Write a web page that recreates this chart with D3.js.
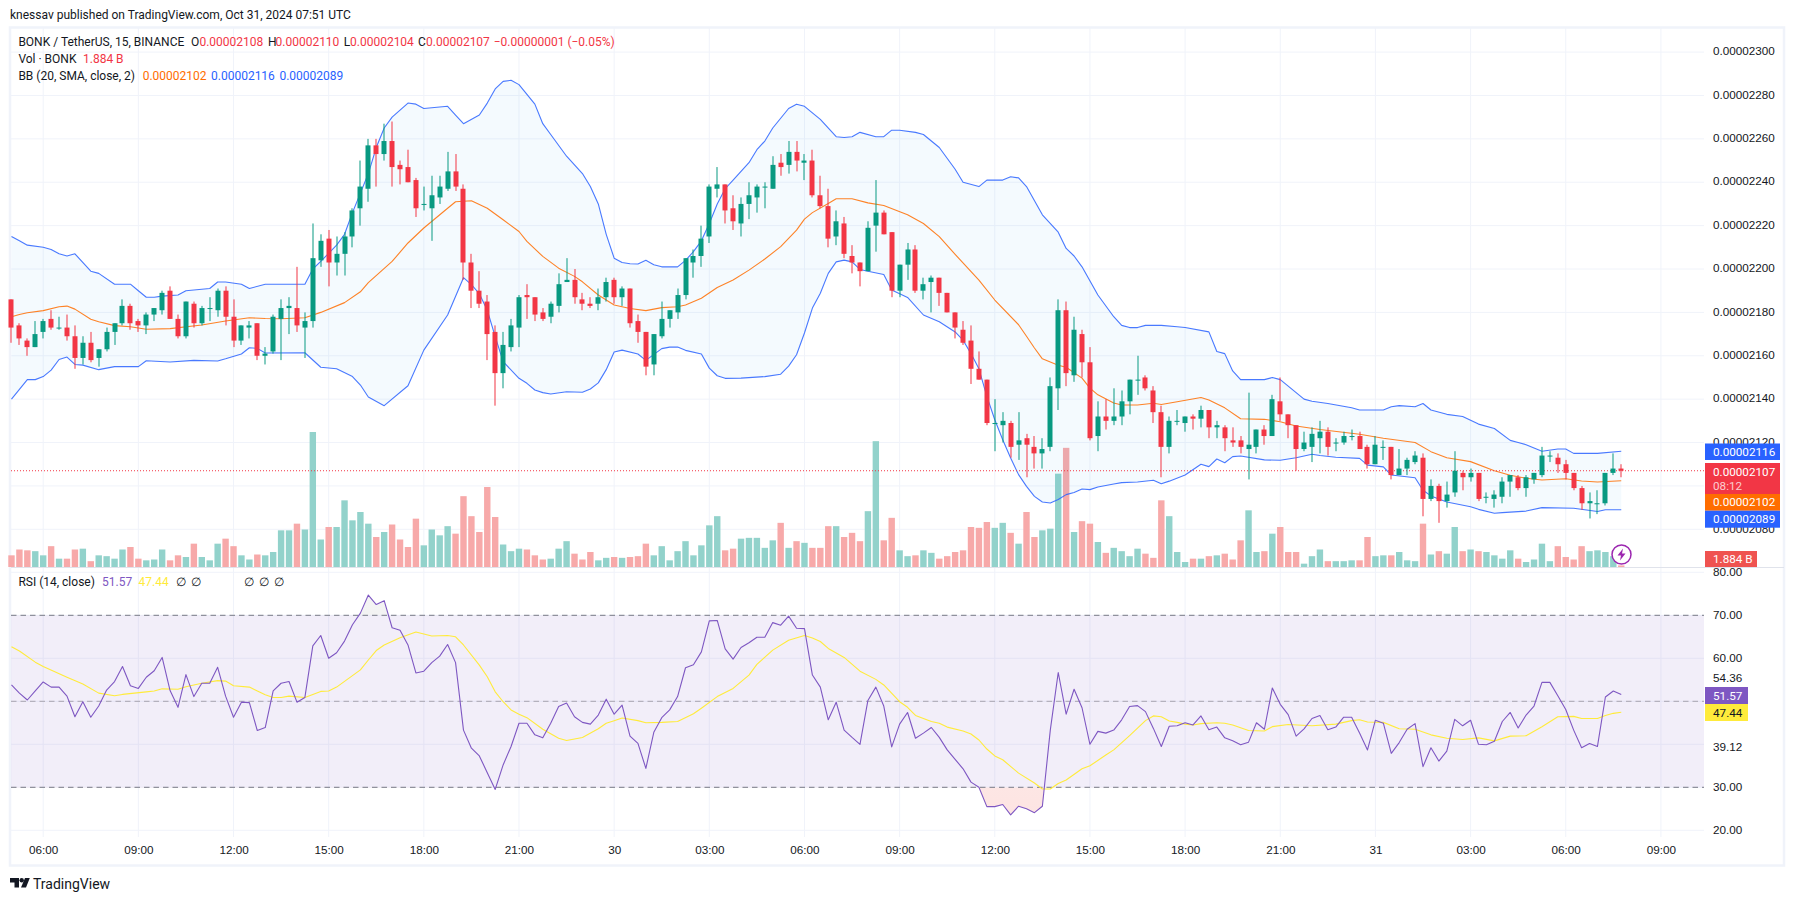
<!DOCTYPE html>
<html lang="en">
<head>
    <meta charset="UTF-8">
    <title>BONK / TetherUS</title>
    <style>
        body{
            margin: 0;
            background: white;
        }
        svg{
            display: block;
            font-family: Roboto, sans-serif;
        }
        text{
            font-size: 12px;
            fill: #131722;
        }
        .axis text{
            font-size: 11.7px;
        }
        .axis path, .axis line{
            display: none;
        }
        .tag{
            fill: white;
            font-size: 11.7px;
        }
    </style>
    <script src="https://d3js.org/d3.v7.min.js"></script>
</head>
<body>
<svg width="1794" height="901" id="chart"></svg>
<script>
    // prices are in units of 0.00000001, first bar is 05:00 on the 29th, 15 minute bars
    let firstBar = -4
    let opens = [2186,2174,2167,2164,
        2171,2177,2173,2173,2169,2159,2166,2159,2163,2171,
        2175,2183,2176,2174,2179,2181,2190,2177,2169,2184,
        2175,2182,2181,2190,2178,2167,2173,2175,2160,2162,
        2177,2182,2182,2173,2176,2204,2214,2203,2207,2215,
        2228,2237,2257,2253,2259,2248,2247,2241,2230,2228,
        2233,2237,2245,2237,2203,2190,2185,2171,2152,2164,
        2173,2188,2187,2180,2178,2183,2194,2195,2186,2184,
        2184,2187,2195,2187,2191,2176,2171,2156,2169,2177,
        2180,2188,2203,2206,2215,2237,2239,2228,2221,2230,
        2233,2238,2237,2249,2248,2254,2249,2250,2234,2229,
        2215,2221,2206,2203,2199,2220,2226,2217,2190,2202,
        2209,2190,2194,2196,2189,2180,2172,2167,2154,2149,
        2129,2128,2129,2119,2122,2118,2115,2118,2145,2181,
        2151,2170,2157,2123,2132,2130,2132,2139,2149,2150,
        2144,2134,2118,2130,2129,2132,2131,2135,2127,2127,
        2121,2121,2117,2118,2126,2123,2139,2133,2128,2117,
        2118,2122,2125,2120,2120,2123,2123,2118,2110,2118,
        2118,2105,2108,2111,2113,2094,2100,2093,2097,2106,
        2104,2106,2095,2094,2095,2102,2104,2099,2103,2105,
        2114,2113,2110,2106,2099,2092,2092,2092,2106,2108]
    let highs = [2186,2175,2168,2176,
        2177,2181,2178,2179,2174,2169,2171,2163,2173,2175,
        2186,2184,2177,2180,2182,2190,2192,2179,2185,2185,
        2183,2187,2191,2192,2186,2174,2176,2175,2164,2179,
        2186,2187,2201,2180,2221,2216,2218,2215,2217,2228,
        2250,2260,2260,2267,2268,2250,2255,2242,2238,2243,
        2243,2254,2253,2239,2207,2199,2188,2174,2171,2177,
        2188,2193,2187,2182,2185,2198,2205,2200,2189,2187,
        2191,2196,2196,2192,2191,2179,2171,2170,2185,2181,
        2191,2205,2209,2220,2239,2247,2239,2234,2233,2240,
        2239,2240,2252,2253,2259,2259,2253,2255,2243,2237,
        2227,2224,2211,2203,2222,2241,2227,2217,2202,2212,
        2211,2196,2197,2196,2189,2180,2176,2174,2162,2149,
        2140,2134,2130,2134,2124,2123,2122,2150,2186,2185,
        2178,2172,2164,2139,2140,2145,2144,2149,2160,2151,
        2146,2137,2132,2135,2132,2133,2137,2135,2130,2128,
        2127,2123,2143,2126,2128,2142,2150,2133,2128,2125,
        2127,2130,2127,2122,2125,2126,2125,2119,2123,2121,
        2118,2117,2113,2116,2115,2103,2101,2102,2116,2107,
        2108,2106,2097,2098,2104,2105,2105,2105,2106,2118,
        2116,2115,2112,2106,2100,2097,2098,2106,2115,2110]
    let lows = [2166,2165,2160,2164,
        2168,2172,2172,2167,2154,2156,2157,2155,2162,2165,
        2174,2172,2171,2170,2176,2179,2177,2168,2168,2173,
        2174,2176,2178,2174,2164,2165,2168,2158,2156,2161,
        2158,2170,2171,2159,2173,2201,2192,2197,2197,2210,
        2220,2231,2238,2250,2238,2239,2240,2224,2227,2213,
        2230,2236,2236,2195,2182,2182,2158,2137,2145,2162,
        2164,2177,2176,2176,2175,2180,2194,2184,2181,2182,
        2181,2185,2184,2183,2173,2166,2151,2151,2168,2173,
        2177,2186,2196,2201,2212,2233,2221,2218,2215,2223,
        2226,2228,2237,2243,2244,2245,2241,2233,2228,2210,
        2211,2205,2198,2192,2199,2208,2216,2187,2187,2195,
        2189,2186,2180,2183,2180,2168,2165,2147,2149,2128,
        2116,2120,2113,2112,2104,2108,2108,2116,2135,2146,
        2148,2150,2121,2116,2126,2128,2128,2133,2142,2144,
        2129,2104,2115,2128,2125,2126,2127,2122,2122,2116,
        2118,2115,2103,2115,2119,2123,2130,2122,2107,2116,
        2111,2115,2114,2116,2119,2121,2117,2108,2110,2112,
        2103,2105,2105,2110,2086,2093,2083,2090,2095,2098,
        2102,2093,2092,2090,2092,2095,2098,2095,2101,2104,
        2111,2106,2103,2098,2089,2085,2087,2091,2105,2104]
    let closes = [2173,2168,2164,2170,
        2176,2173,2173,2169,2159,2166,2158,2163,2171,2175,
        2183,2175,2174,2179,2182,2189,2177,2169,2185,2175,
        2182,2182,2190,2178,2167,2174,2174,2160,2161,2178,
        2182,2183,2174,2176,2205,2213,2203,2207,2215,2227,
        2238,2257,2253,2259,2247,2246,2240,2228,2230,2234,
        2238,2245,2238,2203,2190,2184,2170,2152,2165,2174,
        2187,2187,2179,2177,2184,2193,2195,2187,2184,2183,
        2187,2194,2187,2191,2175,2171,2155,2170,2177,2181,
        2188,2205,2206,2214,2238,2239,2227,2222,2230,2234,
        2238,2238,2248,2247,2254,2250,2250,2234,2229,2214,
        2222,2207,2203,2199,2219,2226,2216,2190,2202,2209,
        2190,2193,2196,2189,2180,2173,2166,2154,2149,2129,
        2129,2130,2118,2121,2119,2115,2117,2146,2181,2152,
        2172,2157,2122,2132,2130,2132,2139,2149,2149,2145,
        2134,2118,2130,2130,2132,2131,2135,2127,2128,2122,
        2120,2118,2119,2126,2123,2140,2133,2128,2117,2120,
        2124,2125,2118,2120,2123,2123,2117,2110,2119,2118,
        2105,2108,2112,2114,2094,2100,2093,2096,2107,2104,
        2106,2094,2095,2096,2102,2105,2099,2104,2106,2114,
        2114,2110,2106,2099,2092,2093,2092,2106,2108,2107]
    // volume in billions
    let volumes = [14,21,20,19,
        14,25,10,10,21,22,7,14,13,10,
        21,24,10,8,9,21,8,14,12,28,
        12,8,28,34,25,14,9,15,14,18,
        44,44,52,45,162,33,48,48,80,56,
        66,52,36,42,51,33,24,58,26,45,
        38,49,40,85,61,42,96,60,27,19,
        22,21,14,9,10,22,31,16,9,18,
        8,11,12,11,12,13,28,14,25,8,
        19,31,14,26,50,61,20,22,34,35,
        35,23,32,53,23,31,29,23,23,49,
        49,36,41,31,67,151,32,59,20,13,
        14,20,17,10,13,18,20,48,47,54,
        47,53,41,28,66,36,44,46,112,143,
        42,55,52,30,17,23,19,13,22,16,
        11,80,61,18,6,10,10,13,14,16,
        9,32,68,18,19,40,48,18,18,4,
        13,21,7,7,7,8,8,36,13,14,
        14,18,8,7,52,15,19,16,48,19,
        21,19,18,14,10,20,10,6,9,28,
        7,25,12,9,25,19,20,18,13,1.884]
    let rsi = [53.8,51.9,50.3,52.4,
        54.5,53.3,53.3,51.2,46.4,49.9,46.3,48.9,52.6,54.6,
        58.1,53.6,53,55.6,57.1,60.2,52.5,48.6,56.2,51.1,
        54.2,54.2,57.9,51.2,46.3,49.8,49.7,43.2,43.9,52.4,
        54.2,54.6,49.8,50.9,62.9,65.3,60,61.3,64,67.8,
        70.5,74.7,72.5,73.4,67.1,66.5,63.1,56.6,57,59,
        60.5,63.2,59,43.3,39.1,37.3,33.4,29.5,35.2,39.5,
        44.9,44.9,42.2,41.5,44.9,48.8,49.6,46.4,45.1,44.7,
        46.8,50.5,47,49.1,41.9,40.2,34.4,42.8,46.2,48,
        51.1,57.8,58.5,61.5,68.7,68.8,62.2,59.8,62.5,63.6,
        64.9,64.9,68.3,67.7,69.8,67,66.9,56.1,53.3,45.7,
        49.8,43.3,41.6,40,50.2,53.3,48.9,39.4,44.7,47.4,
        41.4,42.6,43.9,41.6,38.7,36.5,34.3,31.2,30,25.5,
        25.5,26,23.6,25.6,25,24.1,25.6,43.3,56.7,47,
        52.8,48.5,40,43,42.6,43.3,45.7,48.8,49,47.6,
        43.7,39.5,44.2,44.3,45,44.5,46.6,43.4,44,41.5,
        40.8,39.9,40.5,45,43.5,53.1,49.3,46.9,41.9,43.6,
        46,46.7,43.4,44,46.3,46.3,42.6,38.7,45.6,44.9,
        37.9,40.4,43.5,44.8,34.8,39.2,36.1,38.4,45.8,44.3,
        45.6,40,39.9,40.7,45.3,47.4,43.8,46.8,48.9,54.4,
        54.4,51.3,48.1,43.3,39.2,40.2,39.5,51,52.4,51.57]

    // smooth lines, read at the bars where they bend
    let bbUpperBars = [-4,-3,-2,0,1,2,3,4,6,7,9,10,11,12,13,14,15,17,18,21,22,23,25,26,28,30,31,33,34,35,37,38,39,40,41,42,43,44,46,47,48,51,52,53,55,56,57,58,59,60,62,63,64,66,68,69,70,71,72,73,74,75,76,77,78,80,81,82,83,84,85,86,87,89,90,91,92,94,95,96,98,100,101,102,103,105,106,107,108,110,111,113,115,116,118,119,121,122,123,124,126,128,129,130,131,133,135,136,137,138,139,141,143,144,147,148,149,150,151,154,155,156,159,160,162,165,166,169,170,171,173,174,175,177,179,181,183,185,186,187,189,191,192,193,196,199]
    let bbUpperVals = [2215,2213,2211,2210,2209,2207,2206,2207,2199,2198,2193,2193,2193,2190,2187,2187,2187.5,2188,2190,2191,2194,2194,2193,2191,2193,2193,2193,2193,2200,2203.5,2211,2216,2226,2235,2244,2256,2265,2270,2276.5,2276,2274,2275,2271,2267,2271,2276.5,2283,2286.5,2287,2285,2276,2267,2262,2252,2244,2238,2230,2216,2205,2203,2202.4,2202.3,2204,2202,2201,2201,2204,2208,2213,2221,2230,2237,2241,2249,2255,2259,2265,2274,2276,2275,2269,2261,2260.6,2261,2263,2261,2261,2264,2264,2263,2262,2256,2246,2240,2238,2241,2241,2242.5,2242,2238,2225,2217,2209.5,2206,2201,2188,2178,2174,2173,2173,2174,2174,2173.4,2173,2171,2162,2161,2153,2149,2149,2150,2149,2140,2139,2138,2136,2135,2135,2136.5,2137,2136.5,2138,2135,2133,2132,2128.5,2126.5,2121,2120,2119,2116,2117,2117,2115,2115,2116]

    let bbLowerBars = [-4,-2,-1,0,1,2,3,4,5,7,9,12,13,16,19,22,23,25,26,27,28,33,35,37,39,40,41,43,46,48,51,53,54,55,56,57,58,60,61,62,63,64,66,68,69,70,71,72,73,75,76,78,79,80,81,83,84,85,86,88,91,93,94,95,96,97,98,99,100,101,102,103,104,106,107,109,111,113,115,116,117,118,119,120,121,122,123,124,125,126,127,128,129,130,131,132,133,135,136,138,140,141,142,144,146,147,148,149,150,151,154,156,158,160,161,163,166,167,169,170,173,174,175,177,180,181,183,184,187,189,193,196,197,199]
    let bbLowerVals = [2140,2149,2149,2150.4,2153.4,2158.3,2159.4,2156,2155.7,2153.6,2155,2155,2157.7,2157.1,2157.9,2157.6,2158.6,2160.8,2163.7,2163.4,2161.3,2161.4,2154.7,2154,2150.4,2146.5,2141,2137,2146.2,2162.6,2178.8,2196,2192.8,2188.6,2181,2168.8,2157.3,2149.6,2147.3,2144.2,2143,2142.4,2143.4,2143.2,2144.7,2147.5,2153.6,2161.7,2162.6,2160.8,2157.9,2163.3,2164,2164,2162.5,2160.8,2154.3,2150.8,2149.6,2149.7,2150.4,2151.5,2155.2,2160.5,2170.5,2182,2188.8,2198,2203.3,2204.1,2203.3,2199.8,2199,2197.5,2190.3,2186.9,2178.8,2175.7,2171,2167.2,2161,2154,2141.3,2130.5,2121.3,2112.9,2105.2,2099.8,2095.2,2092.6,2092.1,2093.7,2096,2097,2098.6,2098.3,2099.5,2100.9,2101.5,2101.8,2102.6,2101,2102.2,2105,2110,2108.9,2112.4,2110.7,2113.5,2113.8,2112,2111.8,2113,2114.6,2114,2113.2,2112.7,2109.6,2108.8,2105,2103.8,2098,2095.4,2092.6,2090.4,2089.2,2087.4,2087.7,2088.4,2090,2089.7,2088.2,2089,2089]

    let bbMidBars = [-4,-3,-2,0,2,3,4,6,7,9,11,13,16,20,23,26,28,30,33,35,38,40,41,44,46,48,51,52,54,56,58,60,61,63,65,67,68,70,72,74,76,78,80,81,83,85,87,89,91,93,95,96,97,99,100,102,104,106,109,111,113,115,118,120,123,124,125,126,128,129,131,132,133,135,136,138,140,141,143,146,147,149,151,154,156,158,161,166,169,173,175,177,180,183,185,187,189,192,194,196,199]
    let bbMidVals = [2178,2179,2179.8,2180.8,2182.6,2182.9,2181.5,2176.8,2175.7,2173.9,2173.4,2172.2,2172.5,2174.2,2176,2177.5,2177.2,2177.1,2177.5,2180,2184.5,2189.5,2193.7,2203.5,2212,2218.9,2228,2231,2231.5,2228,2222.7,2217.3,2212.7,2205.8,2200.4,2196.6,2194.1,2188,2183.4,2181.8,2180.8,2182.2,2182.6,2183.4,2186.5,2191.5,2194.9,2199.5,2204.6,2210.3,2217.9,2223,2226,2230.2,2232.4,2232.4,2230.5,2229.3,2225,2221,2214.9,2206.7,2194.9,2185.7,2174.3,2169,2163.6,2158.6,2155.6,2154.7,2149.7,2145.1,2142,2138.2,2137.3,2137.3,2138.1,2137.5,2138.8,2140.8,2139.6,2136,2131,2130.7,2129.6,2127.6,2126,2123.8,2122,2120,2115.8,2113,2111.2,2107,2104.9,2103.5,2102.7,2103.3,2102.3,2101.8,2102.4]

    let rsiMaBars = [-4,-3,-1,0,3,5,7,9,10,13,14,15,17,18,20,22,23,24,26,28,29,30,31,33,35,36,37,40,41,42,43,45,47,49,51,52,53,55,56,57,58,59,60,61,63,65,66,68,70,71,72,73,75,76,78,80,82,83,85,87,89,90,92,94,96,97,98,99,101,103,105,106,108,109,110,112,113,114,116,117,118,119,120,121,123,125,126,127,128,129,131,132,134,135,137,139,140,141,142,143,144,145,146,148,149,150,152,154,155,157,160,163,165,166,167,169,171,173,175,177,179,181,183,185,187,189,191,193,194,196,197,198,199]
    let rsiMaVals = [62.7,61.7,59.1,58.1,55.6,54,51.9,51.3,51.6,52.2,52.4,52.9,52.8,53.4,54.2,54.8,54.7,53.6,53.3,51.5,50.9,50.9,51.2,50.9,52.3,52.4,53.3,57.3,59.6,61.8,63.1,64.8,66.1,65.2,65.3,65,63.1,58.4,55.7,52.2,49.9,48,47,46.2,43.5,41.4,40.9,41.6,43.6,44.9,45.5,46.1,45.5,45,45.1,45.3,47.1,48.4,51.1,53,56.1,58.6,61.9,64.2,65.3,64.7,63.9,62.3,60.2,57,55.1,53.8,49.9,48.6,46.7,45.3,44.9,44,43.1,42.4,41,38.9,37.3,36.4,33.3,31,29.6,29.6,30.9,31.7,34.3,35,37.5,38.7,42,45.5,46.6,46.4,45.4,45.1,44.7,44.5,44.8,45,44.9,44.5,43.2,43.1,44.1,44.6,44.3,44.7,45.5,45.7,45.2,45.1,43.6,43.5,42.2,41.4,41.1,41.5,40.8,41.9,42,44.1,46.4,46.5,46,46,46.7,47.2,47.44]

    let priceGrid = [2300,2280,2260,2240,2220,2200,2180,2160,2140,2120,2100,2080]
    // 2100 sits fully behind the last price tag, so it gets no label
    let priceTicks = [2300,2280,2260,2240,2220,2200,2180,2160,2140,2120,2080]
    let rsiGrid = [80,70,60,50,40,30,20]
    let rsiTicks = [80,70,60,54.36,39.12,30,20]
    let timeBars = [0,12,24,36,48,60,72,84,96,108,120,132,144,156,168,180,192,204]
    let timeLabels = ["06:00","09:00","12:00","15:00","18:00","21:00","30","03:00","06:00","09:00","12:00","15:00","18:00","21:00","31","03:00","06:00","09:00"]

    let green = "#089981"
    let red = "#f23645"
    let blue = "#2962ff"
    let orange = "#ff6d00"
    let purple = "#7e57c2"
    let yellow = "#ffeb3b"

    let paneLeft = 11, paneRight = 1704, paneTop = 28, sepY = 567, paneBottom = 837

    let svg = d3.select("#chart")
    let bars = d3.range(opens.length).map(d => d + firstBar)

    let x = d3.scaleLinear().domain([-4,204]).range([11.48,1660.9])
    let y = d3.scaleLinear().domain([2300,2080]).range([52.1,529.3])
    let yVol = d3.scaleLinear().domain([0,120]).range([sepY,sepY-100])
    let yRsi = d3.scaleLinear().domain([80,20]).range([572.3,830.3])

    // frame and grid
    svg.append("rect").attr("x",10).attr("y",27.5).attr("width",1774).attr("height",838)
        .attr("fill","none").attr("stroke","#f0f3fa").attr("stroke-width",2.5)

    let gridColor = "#f0f3fa"
    let grid = svg.append("g").attr("stroke",gridColor).attr("stroke-width",1)
    grid.selectAll(".vgrid").data(timeBars).enter().append("line")
        .attr("x1",d => x(d)).attr("x2",d => x(d)).attr("y1",paneTop).attr("y2",paneBottom)
    grid.selectAll(".pgrid").data(priceGrid).enter().append("line")
        .attr("x1",paneLeft).attr("x2",paneRight).attr("y1",d => y(d)).attr("y2",d => y(d))
    grid.selectAll(".rgrid").data(rsiGrid).enter().append("line")
        .attr("x1",paneLeft).attr("x2",paneRight).attr("y1",d => yRsi(d)).attr("y2",d => yRsi(d))
    svg.append("line").attr("x1",paneLeft).attr("x2",1784).attr("y1",sepY+.5).attr("y2",sepY+.5)
        .attr("stroke","#e0e3eb")

    // volume
    svg.append("g").selectAll("rect").data(bars).enter().append("rect")
        .attr("x",d => x(d)-3.2).attr("width",6.4)
        .attr("y",(d,i) => yVol(volumes[i]))
        .attr("height",(d,i) => sepY-yVol(volumes[i]))
        .attr("fill",(d,i) => closes[i]>=opens[i] ? "#92d2cb" : "#f7a9a9")

    // bollinger bands
    let pointsOf = (barList,vals,yScale) => barList.map((b,i) => [x(b),yScale(vals[i])])
    let upperPts = pointsOf(bbUpperBars,bbUpperVals,y)
    let lowerPts = pointsOf(bbLowerBars,bbLowerVals,y)
    let line = d3.line()
    svg.append("path").attr("d",line(upperPts.concat(lowerPts.slice().reverse()))+"Z")
        .attr("fill","#2196f3").attr("fill-opacity",.05)
    let drawLine = (pts,color,w) => svg.append("path").attr("d",line(pts))
        .attr("fill","none").attr("stroke",color).attr("stroke-width",w).attr("stroke-linejoin","round")
    drawLine(pointsOf(bbMidBars,bbMidVals,y),orange,1.1).attr("stroke-opacity",.85)
    drawLine(upperPts,blue,1.1).attr("stroke-opacity",.85)
    drawLine(lowerPts,blue,1.1).attr("stroke-opacity",.85)

    // last price line
    svg.append("line").attr("x1",paneLeft).attr("x2",paneRight)
        .attr("y1",y(closes[closes.length-1])).attr("y2",y(closes[closes.length-1]))
        .attr("stroke",red).attr("stroke-dasharray","1 2")

    // candles
    let candles = svg.append("g").selectAll("g").data(bars).enter().append("g")
        .attr("fill",(d,i) => closes[i]>=opens[i] ? green : red)
    candles.append("rect").attr("x",d => Math.round(x(d))-.5).attr("width",1)
        .attr("y",(d,i) => y(highs[i])).attr("height",(d,i) => y(lows[i])-y(highs[i]))
    candles.append("rect").attr("x",d => Math.round(x(d))-2.5).attr("width",5)
        .attr("y",(d,i) => y(Math.max(opens[i],closes[i])))
        .attr("height",(d,i) => Math.max(1,Math.abs(y(opens[i])-y(closes[i]))))

    // rsi pane
    svg.append("rect").attr("x",paneLeft).attr("width",paneRight-paneLeft)
        .attr("y",yRsi(70)).attr("height",yRsi(30)-yRsi(70))
        .attr("fill",purple).attr("fill-opacity",.1)
    let defs = svg.append("defs")
    defs.append("clipPath").attr("id","aboveBand").append("rect")
        .attr("x",paneLeft).attr("y",paneTop).attr("width",paneRight).attr("height",yRsi(70)-paneTop)
    defs.append("clipPath").attr("id","belowBand").append("rect")
        .attr("x",paneLeft).attr("y",yRsi(30)).attr("width",paneRight).attr("height",100)
    let highGrad = defs.append("linearGradient").attr("id","highGrad").attr("x1",0).attr("x2",0).attr("y1",0).attr("y2",1)
    highGrad.append("stop").attr("offset",0).attr("stop-color","#f4f4f4")
    highGrad.append("stop").attr("offset",1).attr("stop-color","#e6e8e8")
    let lowGrad = defs.append("linearGradient").attr("id","lowGrad").attr("x1",0).attr("x2",0).attr("y1",0).attr("y2",1)
    lowGrad.append("stop").attr("offset",0).attr("stop-color","#fdf3f2")
    lowGrad.append("stop").attr("offset",1).attr("stop-color","#fde4e2")
    let rsiArea = level => d3.area().x((d,i) => x(bars[i])).y0(yRsi(level)).y1(d => yRsi(d))
    svg.append("path").attr("d",rsiArea(70)(rsi)).attr("fill","url(#highGrad)").attr("clip-path","url(#aboveBand)")
    svg.append("path").attr("d",rsiArea(30)(rsi)).attr("fill","url(#lowGrad)").attr("clip-path","url(#belowBand)")

    let levels = [[70,"#787b86"],[50,"#a8a4b0"],[30,"#787b86"]]
    levels.forEach(function (d){
        svg.append("line").attr("x1",paneLeft).attr("x2",paneRight)
            .attr("y1",yRsi(d[0])).attr("y2",yRsi(d[0]))
            .attr("stroke",d[1]).attr("stroke-dasharray","5.5 4")
    })
    drawLine(pointsOf(rsiMaBars,rsiMaVals,yRsi),yellow,1.1)
    drawLine(pointsOf(bars,rsi,yRsi),purple,1.1)

    // axes
    let priceAxis = d3.axisRight(y).tickValues(priceTicks).tickSize(0).tickPadding(0)
        .tickFormat(d => (d/1e8).toFixed(8))
    svg.append("g").attr("class","axis").attr("transform","translate(1713,-1)").call(priceAxis)
    let rsiAxis = d3.axisRight(yRsi).tickValues(rsiTicks).tickSize(0).tickPadding(0)
        .tickFormat(d => d.toFixed(2))
    let rsiG = svg.append("g").attr("class","axis").attr("transform","translate(1713,-1)").call(rsiAxis)
    // the 54.36 label gets pushed up off the purple tag
    rsiG.selectAll(".tick text").filter(d => d==54.36).attr("y",-3.5)
    let timeAxis = d3.axisBottom(x).tickValues(timeBars).tickSize(0).tickPadding(0)
        .tickFormat((d,i) => timeLabels[i])
    let timeG = svg.append("g").attr("class","axis").attr("transform","translate(0,846)").call(timeAxis)
    timeG.selectAll("text").attr("font-weight",(d,i) => timeLabels[i].length==2 ? 500 : 400)

    // price tags
    function tag(label,y0,y1,color,width,textColor){
        svg.append("rect").attr("x",1705).attr("y",y0).attr("width",width).attr("height",y1-y0).attr("fill",color)
        svg.append("text").attr("class","tag").attr("x",1713).attr("y",(y0+y1)/2).attr("dy","0.35em")
            .style("fill",textColor || "white").text(label)
    }
    tag("0.00002116",443.5,460,blue,75)
    svg.append("rect").attr("x",1705).attr("y",463).attr("width",75).attr("height",31).attr("fill",red)
    svg.append("text").attr("class","tag").attr("x",1713).attr("y",471.5).attr("dy","0.35em").text("0.00002107")
    svg.append("text").attr("class","tag").attr("x",1713).attr("y",485.5).attr("dy","0.35em").style("fill-opacity",.75).text("08:12")
    tag("0.00002102",494,510.7,orange,75)
    tag("0.00002089",510.7,527.7,blue,75)
    tag("1.884 B",551,567,"#ef5350",52)
    tag("51.57",687,704,purple,43)
    tag("47.44",704,721,yellow,43,"#131722")

    // legend rows
    function legendRow(yPos,items){
        items.forEach(function (d){
            svg.append("text").attr("x",d[0]).attr("y",yPos).attr("dy","0.35em").style("fill",d[2] || "#131722").text(d[1])
        })
    }
    legendRow(14.7,[[10,"knessav published on TradingView.com, Oct 31, 2024 07:51 UTC"]])
    legendRow(41.7,[[18.4,"BONK / TetherUS, 15, BINANCE"],[191,"O"],[199.4,"0.00002108",red],[268,"H"],[275.5,"0.00002110",red],
        [343.7,"L"],[350,"0.00002104",red],[418,"C"],[426,"0.00002107",red],[493.7,"−0.00000001 (−0.05%)",red]])
    legendRow(58.7,[[18.4,"Vol · BONK"],[83,"1.884 B",red]])
    legendRow(76,[[18.4,"BB (20, SMA, close, 2)"],[142.7,"0.00002102",orange],[211,"0.00002116",blue],[279.4,"0.00002089",blue]])
    legendRow(582,[[18.4,"RSI (14, close)"],[102,"51.57",purple],[138.5,"47.44",yellow],[175.7,"∅"],[191,"∅"],[243.8,"∅"],[258.7,"∅"],[273.6,"∅"]])

    // bolt icon on the last bar
    let bolt = svg.append("g").attr("transform","translate(1621.5,554.5)")
    bolt.append("circle").attr("r",9.5).attr("fill","white").attr("stroke","#9c27b0").attr("stroke-width",1.5)
    bolt.append("path").attr("d","M1.5 -6 L-4 1 L-0.5 1 L-1.5 6 L4 -1 L0.5 -1 Z").attr("fill","#9c27b0")

    // tradingview logo
    let logo = svg.append("g").attr("fill","#131722")
    logo.append("path").attr("d","M10 878 H19 V887.4 H14.5 V882.5 H10 Z")
    logo.append("circle").attr("cx",21.7).attr("cy",880.3).attr("r",2.2)
    logo.append("path").attr("d","M25 878 H29.8 L26 887.4 H21 Z")
    svg.append("text").attr("x",33).attr("y",883.7).attr("dy","0.35em").style("font-size","14px").text("TradingView")
</script>
</body>
</html>
